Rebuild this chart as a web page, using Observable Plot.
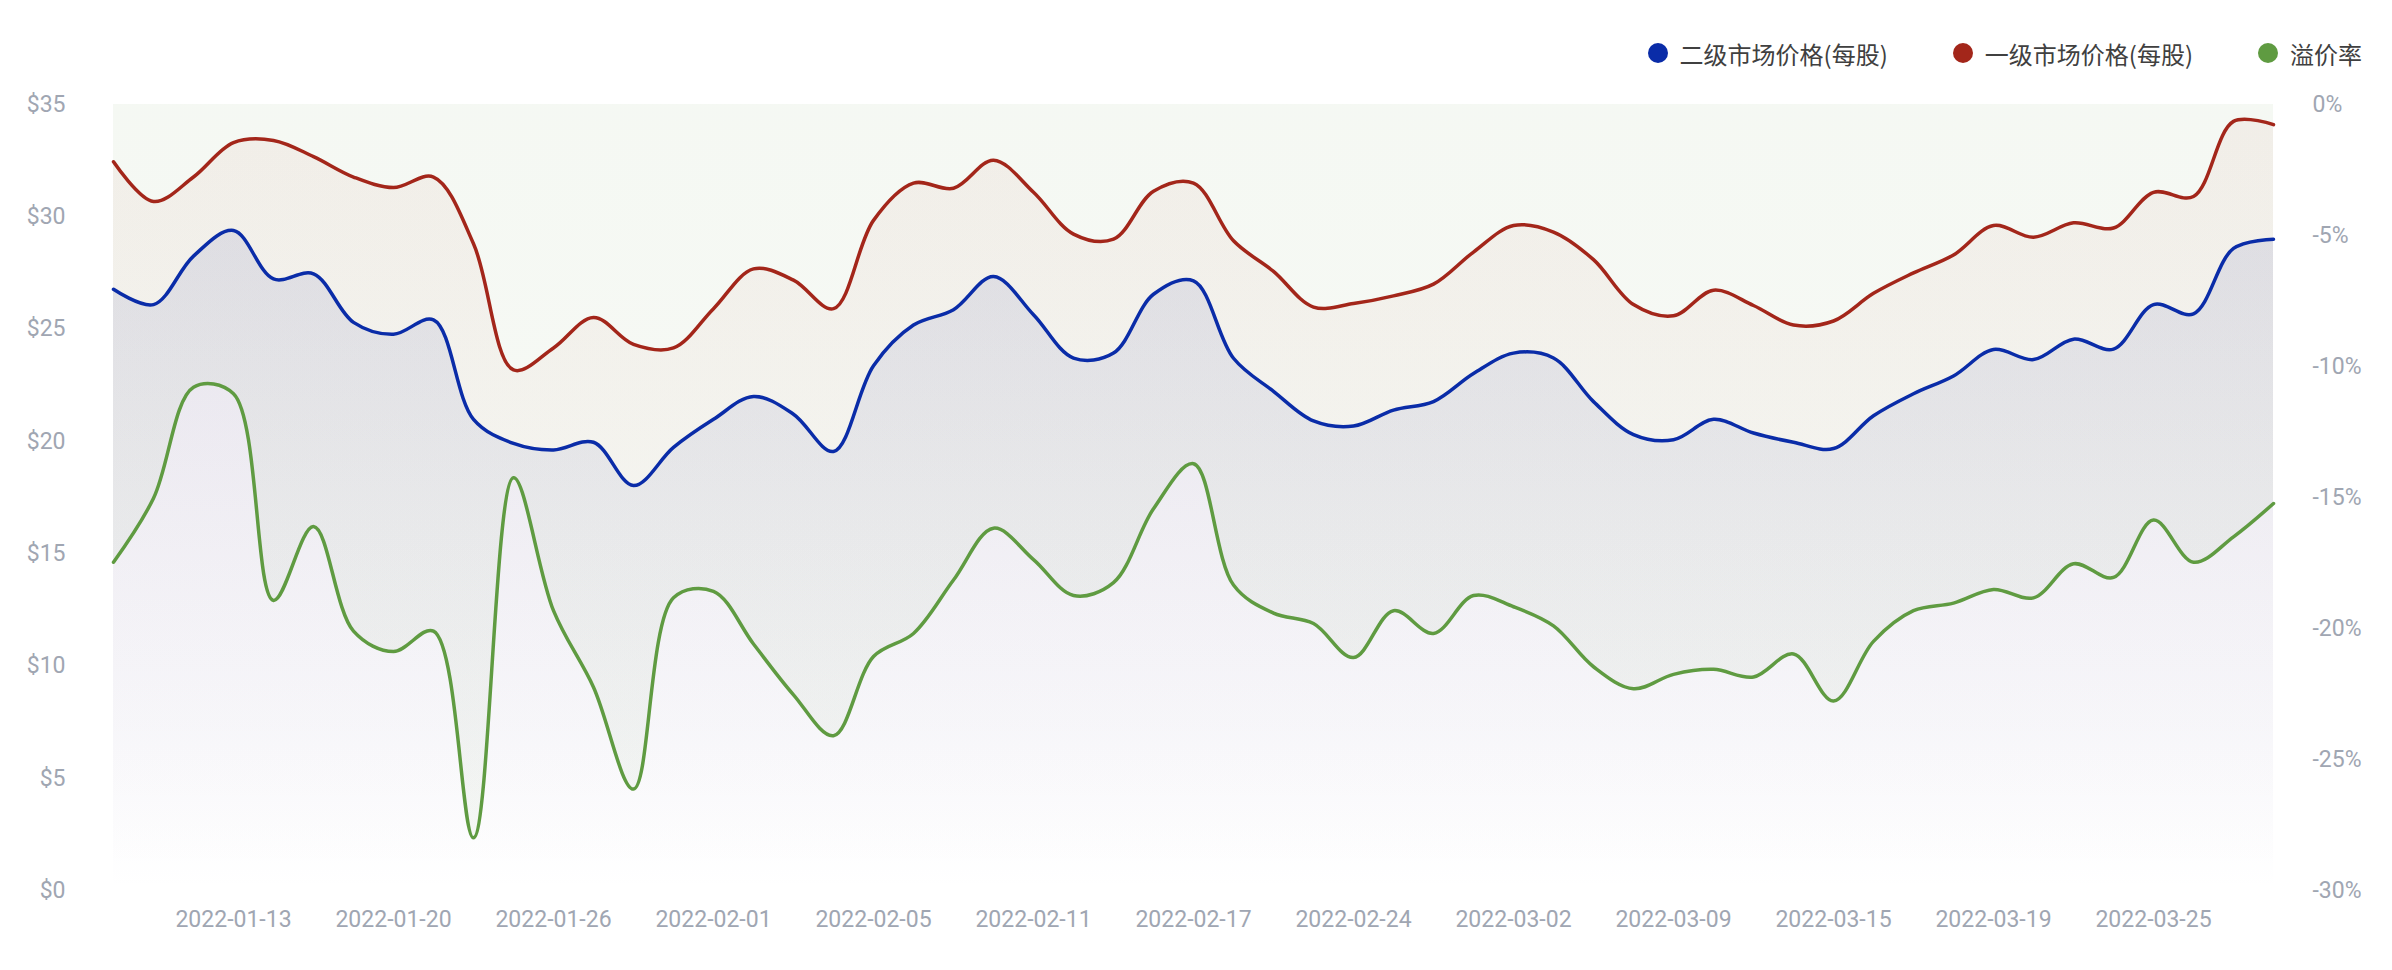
<!DOCTYPE html>
<html><head><meta charset="utf-8">
<script src="https://cdn.jsdelivr.net/npm/d3@7"></script>
<script src="https://cdn.jsdelivr.net/npm/@observablehq/plot@0.6"></script>
<style>
html,body{margin:0;padding:0;background:#fff;overflow:hidden;}
#legend{height:80px;box-sizing:border-box;padding-top:26px;padding-right:30px;display:flex;justify-content:flex-end;align-items:center;gap:65px;font-family:"Noto Sans CJK SC","Noto Sans",sans-serif;font-size:24px;color:#404040;}
.item{display:flex;align-items:center;gap:12px;white-space:nowrap;}
.dot{width:20px;height:20px;border-radius:50%;}
</style></head><body>
<div id="legend"></div>
<div id="chart"></div>
<script>
const dates = ["2022-01-10","2022-01-11","2022-01-12","2022-01-13","2022-01-14","2022-01-18","2022-01-19","2022-01-20","2022-01-21","2022-01-24","2022-01-25","2022-01-26","2022-01-27","2022-01-28","2022-01-31","2022-02-01","2022-02-02","2022-02-03","2022-02-04","2022-02-05","2022-02-07","2022-02-08","2022-02-09","2022-02-11","2022-02-14","2022-02-15","2022-02-16","2022-02-17","2022-02-18","2022-02-22","2022-02-23","2022-02-24","2022-02-25","2022-02-28","2022-03-01","2022-03-02","2022-03-03","2022-03-07","2022-03-08","2022-03-09","2022-03-10","2022-03-11","2022-03-14","2022-03-15","2022-03-16","2022-03-17","2022-03-18","2022-03-19","2022-03-21","2022-03-22","2022-03-24","2022-03-25","2022-03-28","2022-03-29","2022-03-30"];
const secondaryPrice = [26.77,26.09,28.25,29.39,27.23,27.46,25.30,24.77,25.41,20.98,19.91,19.62,19.96,18.03,19.73,20.98,22.0,21.21,19.55,23.37,25.18,25.86,27.34,25.64,23.71,23.93,26.55,27.15,23.7,22.23,20.91,20.68,21.39,21.77,23.02,23.93,23.71,21.77,20.3,20.07,20.98,20.37,19.96,19.68,21.14,22.12,22.91,24.09,23.64,24.55,24.11,26.09,25.68,28.59,29.0];
const primaryPrice = [32.45,30.68,31.77,33.3,33.4,32.68,31.77,31.3,31.77,28.8,23.18,24.16,25.52,24.32,24.16,25.91,27.68,27.18,25.91,29.84,31.5,31.27,32.52,31.09,29.23,29.0,31.14,31.5,28.93,27.57,25.98,26.14,26.48,27.0,28.43,29.61,29.32,28.09,26.09,25.59,26.73,26.05,25.18,25.36,26.59,27.5,28.3,29.61,29.09,29.73,29.5,31.09,30.9,34.25,34.1];
const premiumRate = [-17.47,-15.03,-10.79,-11.04,-18.93,-16.11,-20.10,-20.88,-20.10,-27.99,-14.25,-19.32,-22.24,-26.13,-18.83,-18.58,-20.59,-22.53,-24.09,-21.07,-20.19,-18.15,-16.17,-17.37,-18.74,-18.25,-15.43,-13.71,-18.34,-19.41,-19.81,-21.11,-19.32,-20.19,-18.74,-19.17,-19.90,-21.46,-22.30,-21.75,-21.56,-21.85,-20.97,-22.77,-20.49,-19.32,-19.03,-18.51,-18.83,-17.53,-18.05,-15.86,-17.47,-16.50,-15.23];
const priceTicks = [0,5,10,15,20,25,30,35];
const rateTicks = [0,-5,-10,-15,-20,-25,-30];
const labelDates = dates.filter((d,i) => i % 4 === 3);
const seriesNames = ["二级市场价格(每股)","一级市场价格(每股)","溢价率"];
const seriesColors = ["#0a2ca8","#a3261a","#5f9b41"];

// legend
const legend = document.getElementById("legend");
seriesNames.forEach((n,i) => {
  const it = document.createElement("div"); it.className = "item";
  const dot = document.createElement("span"); dot.className = "dot"; dot.style.background = seriesColors[i];
  const tx = document.createElement("span"); tx.textContent = n;
  it.appendChild(dot); it.appendChild(tx); legend.appendChild(it);
});

// premium rate on right axis: 0% ↔ $35, -30% ↔ $0
const rateToY = r => (r + 30) * 35 / 30;
const rows = dates.map((d,i) => ({date: d, blue: secondaryPrice[i], red: primaryPrice[i], rate: rateToY(premiumRate[i])}));
const curve = "catmull-rom";

const chart = Plot.plot({
  width: 2392, height: 890,
  marginTop: 24, marginBottom: 80, marginLeft: 110, marginRight: 116,
  style: {fontFamily: "Roboto, 'Noto Sans', sans-serif", fontSize: "23px", color: "#a0a6b2", background: "transparent", overflow: "visible"},
  x: {type: "point", domain: dates, padding: 0, axis: null},
  y: {domain: [0, 35], axis: null},
  marks: [
    Plot.areaY(rows, {x: "date", y1: "rate", y2: 35, fill: "url(#gGreen)", curve}),
    Plot.areaY(rows, {x: "date", y1: 0, y2: "red", fill: "url(#gRed)", curve}),
    Plot.areaY(rows, {x: "date", y1: 0, y2: "blue", fill: "url(#gBlue)", curve}),
    Plot.lineY(rows, {x: "date", y: "rate", stroke: seriesColors[2], strokeWidth: 3.5, curve}),
    Plot.lineY(rows, {x: "date", y: "red", stroke: seriesColors[1], strokeWidth: 3.5, curve}),
    Plot.lineY(rows, {x: "date", y: "blue", stroke: seriesColors[0], strokeWidth: 3.5, curve}),
    Plot.axisY(priceTicks, {anchor: "left", tickSize: 0, tickPadding: 45, tickFormat: d => "$" + d, label: null}),
    Plot.axisY(rateTicks.map(rateToY), {anchor: "right", tickSize: 0, tickPadding: 36, tickFormat: y => Math.round(y * 30 / 35 - 30) + "%", label: null}),
    Plot.axisX(labelDates, {anchor: "bottom", tickSize: 0, tickPadding: 20, label: null})
  ]
});

const ns = "http://www.w3.org/2000/svg";
const defs = document.createElementNS(ns, "defs");
defs.innerHTML = `
<linearGradient id="gGreen" x1="0" y1="0" x2="0" y2="1">
  <stop offset="0" stop-color="rgb(100,150,70)" stop-opacity="0.065"/>
  <stop offset="1" stop-color="rgb(100,150,70)" stop-opacity="0.05"/>
</linearGradient>
<linearGradient id="gRed" x1="0" y1="0" x2="0" y2="1">
  <stop offset="0" stop-color="rgb(165,40,20)" stop-opacity="0.05"/>
  <stop offset="0.75" stop-color="rgb(165,40,20)" stop-opacity="0.012"/>
  <stop offset="1" stop-color="rgb(165,40,20)" stop-opacity="0"/>
</linearGradient>
<linearGradient id="gBlue" x1="0" y1="0" x2="0" y2="1">
  <stop offset="0" stop-color="rgb(92,102,178)" stop-opacity="0.13"/>
  <stop offset="0.75" stop-color="rgb(92,102,178)" stop-opacity="0.045"/>
  <stop offset="1" stop-color="rgb(92,102,178)" stop-opacity="0"/>
</linearGradient>`;
chart.insertBefore(defs, chart.firstChild);
document.getElementById("chart").appendChild(chart);
</script>
</body></html>
